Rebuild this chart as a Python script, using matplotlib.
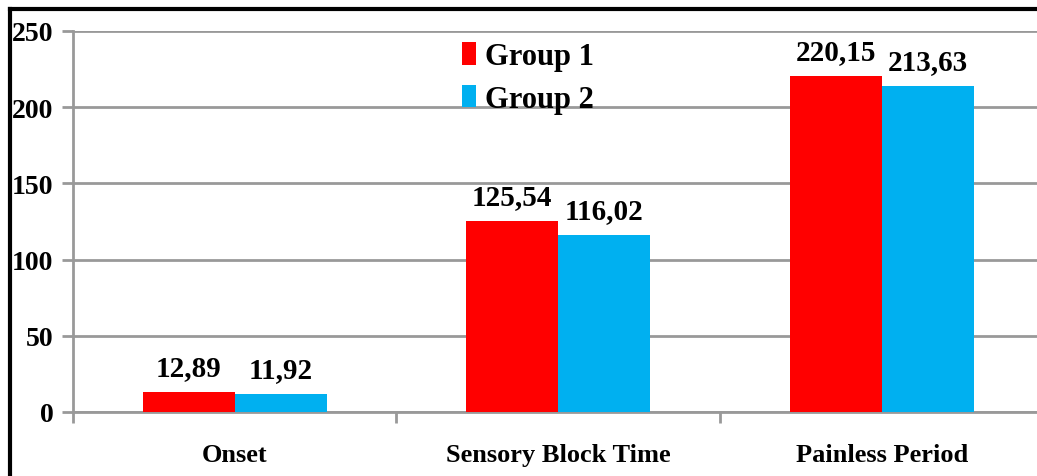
import numpy as np
import matplotlib.pyplot as plt
from matplotlib.lines import Line2D

categories = ['Onset', 'Sensory Block Time', 'Painless Period']
group1 = [12.89, 125.54, 220.15]
group2 = [11.92, 116.02, 213.63]
labels1 = ['12,89', '125,54', '220,15']
labels2 = ['11,92', '116,02', '213,63']
yticks = [0, 50, 100, 150, 200, 250]

plt.rcParams['font.family'] = 'Liberation Serif'
plt.rcParams['font.weight'] = 'bold'

fig = plt.figure(figsize=(10.37, 4.77), dpi=100)
ax = fig.add_axes([73 / 1037, 1 - 413 / 477, 1 - 73 / 1037, (413 - 32) / 477])

red = '#ff0000'
blue = '#00b0f0'
w = 0.285
x = np.arange(len(categories))
b1 = ax.bar(x - w / 2, group1, w, color=red, label='Group 1', zorder=3)
b2 = ax.bar(x + w / 2, group2, w, color=blue, label='Group 2', zorder=3)

for bars, labs in ((b1, labels1), (b2, labels2)):
    for rect, lab in zip(bars, labs):
        ax.annotate(lab, (rect.get_x() + rect.get_width() / 2, rect.get_height()),
                    xytext=(0, 8), textcoords='offset points', ha='center', va='bottom',
                    fontsize=21, fontweight='bold')

ax.set_ylim(0, 250)
ax.set_xlim(-0.5, 2.48)
ax.set_yticks(yticks)
ax.set_yticklabels([str(v) for v in yticks], fontsize=20, fontweight='bold')
ax.set_xticks(x)
ax.set_xticklabels(categories, fontsize=19, fontweight='bold')
ax.set_xticks([-0.5, 0.5, 1.5], minor=True)
ax.tick_params(axis='x', which='major', length=0, pad=22)
ax.tick_params(axis='x', which='minor', length=8, width=2, color='#999999')
ax.tick_params(axis='y', length=8, width=2, color='#999999', pad=6)

ax.grid(axis='y', color='#999999', linewidth=2, zorder=0)
for s in ['top', 'right', 'bottom']:
    ax.spines[s].set_visible(False)
ax.spines['left'].set_color('#999999')
ax.spines['left'].set_linewidth(2)
ax.axhline(0, color='#999999', linewidth=2, zorder=2, clip_on=False)

leg = ax.legend(loc='upper left', bbox_to_anchor=((462 - 73) / 964, 1 - (43 - 32) / 381),
                frameon=False, fontsize=22, handlelength=0.45, handleheight=0.75,
                handletextpad=0.3, labelspacing=0.45, borderaxespad=0, borderpad=0)
for t in leg.get_texts():
    t.set_fontweight('bold')

# black frame on left and top
fig.add_artist(Line2D([10 / 1037, 10 / 1037], [0, 1 - 10 / 477], color='black', linewidth=3))
fig.add_artist(Line2D([10 / 1037, 1], [1 - 10 / 477, 1 - 10 / 477], color='black', linewidth=3))

fig.savefig('out.png', dpi=100)
